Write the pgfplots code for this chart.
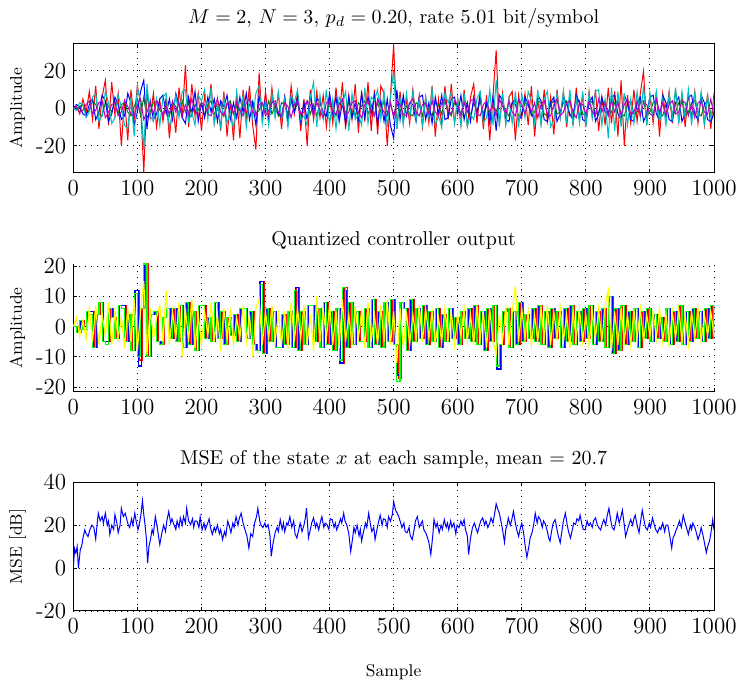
\documentclass[border=0pt]{standalone}
\usepackage{fontspec}
\usepackage{pgfplots}
\usepackage{pgfplotstable}
\pgfplotsset{compat=1.18}
\definecolor{mgreen}{rgb}{0,0.5,0}
\definecolor{mcyan}{rgb}{0,0.75,0.75}
\definecolor{mmag}{rgb}{0.75,0,0.75}
\definecolor{bgreen}{rgb}{0,1,0}
\definecolor{byellow}{rgb}{1,1,0}

\pgfplotstableread{
x r g b c m
0 0 0 0 0 0
5 1 -1 2 -1 1
10 -3 1 1 3 -2
15 5 2 -3 2 -1
20 -2 -3 -4 -5 2
25 9 -1 2 -2 4
30 -6 4 5 6 -3
35 12 2 -6 8 -1
40 -11 -3 -2 -7 3
45 6 -4 7 -4 4
50 15 3 4 9 -5
55 -9 1 -7 3 -2
60 14 -2 -3 -8 2
65 -4 4 6 -5 3
70 8 -3 2 7 -4
75 -20 2 -6 1 -2
80 5 3 -4 -9 4
85 -17 -2 8 -11 1
90 10 -4 3 6 -3
95 -6 1 -9 -15 -4
100 12 5 -2 11 2
105 3 -4 9 4 5
110 -34.3 6 15 -22 -6
115 9 -5 -11 13 -2
120 -5 -2 4 -4 3
125 8 3 -6 -7 -3
130 -10 4 -3 5 4
135 4 -1 5 -9 2
140 -7 -3 7 6 -4
145 6 2 -3 8 1
150 -16 -4 5 -10 -3
155 2 3 -6 -3 4
160 -13 1 8 7 -2
165 11 -3 2 -5 3
170 -5 4 -5 9 -4
175 23 -2 -8 10 2
180 -10 3 6 -7 -3
185 13 -4 -3 -2 5
190 -4 2 9 -9 -1
195 8 -1 -7 7 -4
200 -12 3 3 4 3
205 7 -4 -5 10 2
210 -3 2 6 -6 -3
215 13 4 -2 11 -4
220 -8 -3 5 -8 1
225 5 -1 -7 3 5
230 -12 3 4 -10 -2
235 9 -4 1 6 -4
240 -15 2 7 -8 3
245 4 4 -6 -2 2
250 -17 -3 3 -11 -3
255 7 1 -5 9 4
260 -16 -2 6 -4 -1
265 10 3 -2 7 -4
270 -5 -4 8 -10 3
275 12 2 -6 6 5
280 -9 4 3 -5 -2
285 -22 -3 -9 8 -4
290 19 -1 7 12 2
295 -7 3 -4 -8 3
300 9 -2 5 4 -4
305 -6 4 -7 -9 -1
310 11 -3 4 8 3
315 -4 1 2 -5 4
320 8 -4 -3 9 -2
325 -11 3 -5 -6 -4
330 6 2 6 5 3
335 -7 -3 -8 -10 1
340 12 4 6 7 -5
345 -3 -2 -2 3 2
350 8 3 6 10 4
355 -12 -4 -7 -6 -3
360 5 1 3 -4 -2
365 -20 4 -6 -9 4
370 10 -3 7 6 2
375 -6 2 -3 14 -4
380 9 -4 5 -10 3
385 -5 3 4 7 -1
390 7 -2 -3 -6 -5
395 -10 -4 -4 10 3
400 6 3 8 -9 4
405 -8 1 -3 5 -2
410 11 -4 6 -11 -3
415 -5 3 -7 6 2
420 14 2 3 2 5
425 -11 -3 -8 9 -4
430 7 4 6 -12 -2
435 -6 -2 -5 8 3
440 13 -4 3 -6 4
445 -13 3 -6 -3 -2
450 9 1 8 -9 -5
455 -7 4 -5 11 2
460 14 -3 6 -8 4
465 -12 2 -3 6 -3
470 10 -4 7 4 -4
475 -14 3 -8 10 5
480 12 -2 4 -6 1
485 8 4 -7 9 -2
490 -20 -3 5 -10 -4
495 6 3 -9 6 3
500 34.3 -4 -16 20 -5
505 -11 3 10 -11 4
510 9 -2 -6 5 2
515 -7 4 7 -9 -3
520 5 1 -4 8 -4
525 -8 -3 3 -5 3
530 10 -4 2 9 5
535 -5 3 -7 -6 -2
540 7 2 6 5 -4
545 -10 -4 7 -9 2
550 6 3 -6 6 3
555 -8 -1 3 -5 -3
560 12 -4 -8 10 4
565 -15 3 6 -9 -2
570 5 2 -3 -4 -4
575 -9 -3 7 -10 3
580 12 4 -6 8 5
585 -6 -2 -5 3 -1
590 13 -4 5 9 -3
595 -8 3 6 -8 4
600 5 1 -3 5 2
605 -9 -3 7 -9 -4
610 10 4 -6 8 3
615 -10 2 3 -10 -2
620 6 -4 -7 -3 4
625 13 3 6 -6 5
630 -8 -2 -3 5 -3
635 9 4 7 9 -4
640 -11 -3 -6 -8 2
645 7 2 3 -5 4
650 -17 -4 -8 10 -2
655 6 3 6 -9 3
660 31 -2 -12 15 -4
665 -9 4 7 -10 5
670 8 3 4 8 1
675 -8 -2 -6 -9 -3
680 6 -4 -7 5 4
685 9 3 3 -8 -2
690 -17 2 5 9 -4
695 7 -4 -7 -10 5
700 -5 -3 -3 8 2
705 8 3 6 -5 -3
710 -9 2 2 9 4
715 12 -4 -3 4 -2
720 -15 -2 -6 -8 3
725 5 4 7 10 -5
730 -8 3 4 -9 2
735 10 -3 -6 5 4
740 -7 -4 -7 9 -3
745 6 2 3 -10 -4
750 -14 4 6 -6 2
755 10 -3 -7 8 5
760 -5 -2 -3 -5 -4
765 9 3 6 9 -2
770 -10 4 2 -8 3
775 6 -4 -3 10 4
780 -9 -2 -6 -9 -2
785 11 3 7 5 -5
790 -6 4 3 -8 3
795 7 -3 -6 9 2
800 -10 -4 -7 -10 -3
805 9 2 3 8 4
810 -5 4 6 -5 -2
815 10 -3 -7 9 -4
820 -12 -2 -3 10 5
825 6 3 6 -9 -2
830 -9 4 -2 5 3
835 11 -4 -3 -16 -4
840 -8 -2 6 11 4
845 9 3 7 -12 -2
850 -15 4 -3 9 3
855 15 -3 -6 -10 -4
860 -20 -4 7 8 2
865 7 2 3 -9 5
870 -8 4 -6 5 -3
875 10 -3 -7 -8 -2
880 -7 -2 3 9 4
885 8 3 6 -5 -4
890 19.7 4 -7 12 3
895 -9 -4 -3 -9 2
900 7 -2 6 8 -3
905 -8 3 7 -5 -4
910 9 4 -3 9 5
915 -15 -3 -6 -8 -2
920 8 -4 7 5 3
925 -5 2 3 -9 -4
930 9 4 -6 8 2
935 -8 -3 -7 -5 4
940 10 -2 3 11 -3
945 -7 3 6 -8 -2
950 7 4 -7 9 4
955 -10 -4 -3 -5 3
960 8 -2 6 10 -4
965 -5 3 7 -9 2
970 9 4 -3 8 -5
975 -8 -3 -6 -5 3
980 7 -4 7 9 4
985 -9 2 3 -8 -2
990 8 4 -6 7 -3
995 -11 -3 -7 -5 5
1000 8 -3 -3 5 -4
}\toptable

\pgfplotstableread{
x qr qb qg qy
0 0 0 0 0
5 -2 -2 -2 3
10 2 2 2 -3
15 -1 -1 -1 2
20 5 5 5 -4
25 5 5 4 6
30 -7 -7 -7 -5
35 4 4 4 7
40 8 8 8 -6
45 -5 -5 -5 4
50 -5 -5 -6 -3
55 6 6 6 8
60 3 3 3 -6
65 -4 -4 -4 5
70 7 7 7 -4
75 7 7 6 3
80 -5 -5 -5 -7
85 4 4 4 6
90 -8 -8 -8 -5
95 12 12 11 9
100 -11 -13 -10 -8
105 6 6 6 5
110 20.7 20.7 20.7 15
115 -10 -10 -10 -9
120 4 4 4 6
125 5 5 5 -4
130 -5 -5 -5 3
135 -6 -6 -6 7
140 3 3 3 -5
145 6 6 6 12
150 -4 -4 -4 -6
155 6 6 6 5
160 -5 -5 -5 -4
165 7 7 7 8
170 -7 -7 -7 -10
175 8 8 8 6
180 -6 -6 -6 -5
185 5 5 5 9
190 -8 -8 -8 -7
195 7 7 7 4
200 7 7 7 -6
205 -4 -4 -4 5
210 3 3 3 -3
215 -5 -5 -5 8
220 8 8 8 -5
225 -4 -4 -4 4
230 5 5 5 -8
235 -6 -6 -6 6
240 3 3 3 -4
245 -3 -3 -3 5
250 4 4 4 -6
255 -5 -5 -5 3
260 6 6 6 -4
265 6 6 6 7
270 -4 -4 -4 -5
275 5 5 5 4
280 -6 -6 -6 -10
285 -8 -8 -8 6
290 15 15 14 9
295 -9 -9 -9 -6
300 6 6 6 5
305 -5 -5 -5 -4
310 5 5 5 7
315 -7 -7 -7 -5
320 -7 -7 -7 4
325 4 4 4 -6
330 -6 -6 -6 5
335 5 5 5 -7
340 -7 -7 -7 8
345 13 13 12 -5
350 -8 -8 -8 6
355 5 5 5 -4
360 -6 -6 -6 7
365 7 7 7 -6
370 7 7 7 4
375 -5 -5 -5 -8
380 6 6 6 10
385 -7 -7 -7 -5
390 8 8 8 6
395 -6 -6 -6 -4
400 5 5 5 7
405 -8 -8 -8 -6
410 6 6 6 5
415 -12 -12 -11 -7
420 13 12 13 9
425 -7 -7 -7 -5
430 8 8 8 4
435 -6 -6 -6 -6
440 5 5 5 7
445 -5 -5 -5 -4
450 -5 -5 -5 5
455 6 6 6 -7
460 -7 -7 -7 8
465 9 9 9 -5
470 -6 -6 -6 4
475 5 5 5 -6
480 -7 -7 -7 7
485 8 8 8 -5
490 -5 -5 -5 9
495 9 9 9 -6
500 -6 -6 -6 5
505 -17 -16 -18 -12
510 8 8 8 6
515 6 6 6 -7
520 -8 -8 -8 5
525 9 9 9 -6
530 -5 -5 -5 4
535 6 6 6 -4
540 -4 -4 -4 7
545 7 7 7 -5
550 -6 -6 -6 6
555 5 5 5 -4
560 -5 -5 -5 5
565 6 6 6 -6
570 -7 -7 -7 3
575 4 4 4 -5
580 -5 -5 -5 6
585 6 6 6 -4
590 -4 -4 -4 5
595 3 3 3 -6
600 -6 -6 -6 4
605 5 5 5 -3
610 -4 -4 -4 6
615 6 6 6 -5
620 -5 -5 -5 4
625 7 7 7 -6
630 -6 -6 -6 7
635 5 5 5 -4
640 -8 -8 -8 5
645 6 6 6 -7
650 -5 -5 -5 6
655 7 7 7 -5
660 -14 -14 -13 -9
665 -6 -6 -6 4
670 5 5 5 -5
675 6 6 6 7
680 -7 -7 -7 -6
685 5 5 5 5
690 -6 -6 -6 13.5
695 8 8 8 -5
700 -5 -5 -5 6
705 4 4 4 -4
710 -4 -4 -4 5
715 6 6 6 -6
720 -5 -5 -5 4
725 7 7 7 -5
730 -6 -6 -6 6
735 5 5 5 -4
740 -7 -7 -7 7
745 6 6 6 -6
750 -4 -4 -4 5
755 5 5 5 -4
760 -7 -7 -7 6
765 6 6 6 -5
770 -5 -5 -5 4
775 7 7 7 -7
780 -6 -6 -6 5
785 5 5 5 -4
790 -5 -5 -5 6
795 6 6 6 -5
800 -4 -4 -4 4
805 7 7 7 -6
810 -6 -6 -6 5
815 5 5 5 -4
820 -5 -5 -5 6
825 6 6 6 -5
830 -7 -7 -7 7
835 10 10 10 12
840 -9 -9 -9 -8
845 6 6 6 5
850 -8 -8 -8 -6
855 7 7 7 6
860 -6 -6 -6 -5
865 5 5 5 4
870 -5 -5 -5 -6
875 6 6 6 5
880 -7 -7 -7 -4
885 5 5 5 6
890 -4 -4 -4 -5
895 6 6 6 4
900 -5 -5 -5 -3
905 4 4 4 5
910 -4 -4 -4 -4
915 3 3 3 6
920 -5 -5 -5 -5
925 6 6 6 4
930 -6 -6 -6 -6
935 5 5 5 5
940 -5 -5 -5 -4
945 7 7 7 6
950 -6 -6 -6 -5
955 5 5 5 4
960 -5 -5 -5 -6
965 6 6 6 5
970 -4 -4 -4 -4
975 5 5 5 6
980 -5 -5 -5 -5
985 6 6 6 4
990 -4 -4 -4 -3
995 7 7 7 5
1000 -4 -4 -4 -3
}\midtable

\pgfplotsset{
  mstyle/.style={
    scale only axis, width=320.35pt,
    xmin=0, xmax=1000, xtick={0,100,...,1000},
    /pgf/number format/1000 sep={},
    /pgf/number format/assume math mode=true,
    grid=major,
    major grid style={black, line width=0.45pt, dash pattern=on 0.45pt off 2.55pt},
    tick align=inside, major tick length=2pt,
    axis line style={black, line width=0.5pt},
    tick style={black, line width=0.5pt},
    tick label style={font=\fontsize{11.5}{13}\selectfont},
    every axis y label/.style={at={(axis description cs:-0.087,0.5)}, rotate=90, anchor=center, font=\fontsize{8.5}{10}\selectfont},
    every axis x label/.style={at={(axis description cs:0.5,0)}, yshift=-30.5pt, anchor=center, font=\fontsize{8.5}{10}\selectfont},
  }
}

\begin{document}
\begin{tikzpicture}
\path[use as bounding box] (0,0) rectangle (370pt,343pt);

\begin{axis}[mstyle, at={(36.65pt,256.65pt)}, anchor=south west, height=64.35pt,
  ymin=-34.3, ymax=34.3, ytick={-20,0,20}, yticklabels={-20,0,20},
  ylabel={Amplitude},
  title={$M=2$, $N=3$, $p_d=0.20$, rate 5.01 bit/symbol},
  every axis title/.style={at={(axis description cs:0.5,1)}, anchor=base, yshift=10pt, font=\fontsize{10}{12}\selectfont}]
\addplot[red, line width=0.5pt] table[x=x, y=r] {\toptable};
\addplot[mgreen, line width=0.5pt] table[x=x, y=g] {\toptable};
\addplot[blue, line width=0.5pt] table[x=x, y=b] {\toptable};
\addplot[mcyan, line width=0.5pt] table[x=x, y=c] {\toptable};
\addplot[mmag, line width=0.5pt] table[x=x, y=m] {\toptable};
\end{axis}

\begin{axis}[mstyle, at={(36.65pt,147.15pt)}, anchor=south west, height=63.85pt,
  ymin=-21.5, ymax=20.7, ytick={-20,-10,0,10,20}, yticklabels={-20,-10,0,10,20},
  axis x line*=bottom, axis y line*=left,
  ylabel={Amplitude},
  title={Quantized controller output},
  every axis title/.style={at={(axis description cs:0.5,1)}, anchor=base, yshift=9pt, font=\fontsize{10}{12}\selectfont}]
\addplot[red, line width=0.6pt, const plot, xshift=0.8pt] table[x=x, y=qr] {\midtable};
\addplot[blue, line width=0.6pt, const plot, xshift=0.4pt] table[x=x, y=qb] {\midtable};
\addplot[bgreen, line width=0.6pt, const plot] table[x=x, y=qg] {\midtable};
\addplot[byellow, line width=0.6pt] table[x=x, y=qy] {\midtable};
\end{axis}

\begin{axis}[mstyle, at={(36.65pt,37.5pt)}, anchor=south west, height=64.35pt,
  ymin=-20, ymax=40, ytick={-20,0,20,40}, yticklabels={-20,0,20,40},
  ylabel={MSE [dB]}, xlabel={Sample},
  title={MSE of the state $x$ at each sample, mean $=$ 20.7},
  every axis title/.style={at={(axis description cs:0.5,1)}, anchor=base, yshift=8.8pt, font=\fontsize{10}{12}\selectfont}]
\addplot[blue, line width=0.5pt] coordinates {
(0,0)(2,9)(4,7)(6,10)(8,0)(11,9)(13,10)(15,14)(18,17.8)(20,16)(23,14.7)(26,18)(29,20)(32,19)(35,13.5)(37,20)(39,25.6)(42,22)(45,24)(47,21)(50,25.6)(53,20)(55,22)(57,15.7)(60,20)(63,18)(65,25)(68,21)(70,16.5)(73,20)(75,27.9)(78,24)(81,25.6)(84,22)(86,20)(88,18.9)(91,23)(93,20)(96,25.6)(98,22)(101,17.8)(104,22)(106,26)(108,31.4)(110,25)(112,20)(114,14)(116,2.3)(118,10)(120,12.6)(123,18)(125,16)(128,24)(131,19)(133,15)(135,11)(138,16)(141,20)(144,17)(146,22)(149,26.4)(152,21)(154,23)(157,20.3)(160,18)(162,22)(165,19)(167,23.4)(170,20)(172,24)(175,21)(177,27.9)(180,22)(183,20.3)(186,23)(188,19)(190,22)(193,21.9)(196,19)(198,24)
(201,17.8)(204,21)(206,18)(209,20.3)(212,23)(214,19)(217,15.7)(220,19)(222,17)(225,20)(228,16)(230,18)(233,13.3)(236,17)(238,15)(241,21.9)(244,19)(246,16.5)(249,21)(251,19)(254,24)(257,20)(259,23)(262,25.6)(265,21)(268,17.8)(271,15)(274,9.3)(277,16)(280,14.7)(283,21)(286,24)(288,27.9)(291,22)(293,20)(296,18.9)(299,21)(301,19)(304,20.3)(307,15)(309,5.5)(312,12)(315,16.5)(318,19)(320,17)(323,22.6)(326,18)(328,21)(330,17)(333,21)(335,20)(338,24)(341,19)(344,22)(346,16)(349,14)(352,18)(354,21)(357,17)(360,20)(362,23)(364,27.9)(367,14)(370,18)(372,21)(375,23.4)(378,19)(380,21)(383,17.8)(386,22)(388,24)(391,19)(393,21)(396,20.3)(399,18)
(401,23)(404,22.6)(407,19)(409,21)(411,17.8)(414,20)(417,23)(419,21)(422,25.6)(424,22)(427,20)(430,16)(433,7.7)(436,14)(438,19)(440,16.5)(443,20)(446,15)(448,18)(450,12.6)(453,17)(456,21)(458,19)(461,25.6)(464,20)(466,17)(469,19)(471,13.3)(474,18)(476,21)(479,24.7)(482,20)(484,23)(487,22.6)(490,19)(492,24)(495,21.9)(498,25)(500,31)(503,27)(505,26)(508,24)(510,22)(513,18.9)(516,21)(518,17)(521,16.5)(524,19)(526,15)(529,13.3)(532,18)(534,22)(537,24)(540,19)(542,20.3)(545,22)(547,18)(550,16.5)(553,14)(555,12)(558,6.3)(561,15)(563,22.6)(566,19)(568,21)(571,16.5)(574,20)(576,18)(579,22.6)(582,19)(584,21)(586,17.8)(589,22)(591,19)(594,21)(597,16)(599,20)
(602,18.9)(605,22)(607,20)(610,22.6)(612,18)(615,15)(617,6.3)(620,14)(623,18.9)(626,21)(628,19)(631,16.5)(634,20)(636,22)(639,23.4)(642,20)(644,22)(647,18.9)(650,21)(652,23.4)(655,21)(658,26)(660,30)(663,27)(665,25.6)(668,21)(670,17.8)(673,12)(675,18)(677,20)(679,23.4)(682,20)(684,22)(687,26.4)(690,21)(692,18)(695,14.7)(698,19)(700,21)(703,16)(705,11)(708,5)(711,10)(713,14)(716,16.5)(719,21)(721,25.6)(724,21)(726,24)(729,22.6)(732,19)(734,22)(737,20.3)(740,17)(742,14)(744,12.6)(747,18)(749,21)(752,22.6)(755,18)(757,15)(760,11.8)(763,18)(765,22)(768,25.6)(771,20)(773,17)(776,14)(779,18)(781,21)(784,20.3)(786,23)(789,22)(791,24.7)(794,20)(796,18)(799,17.8)
(802,22)(804,20)(807,21)(810,19)(812,22)(815,23.4)(818,20)(820,19)(823,17.8)(826,21)(828,22.6)(831,20)(833,24)(836,27.9)(839,22)(841,19)(844,17.8)(847,22)(849,25.6)(852,21)(854,23)(857,27)(860,20)(862,14.7)(865,18)(867,20)(870,22.6)(873,20)(875,23)(877,24.7)(880,20)(883,16.5)(885,21)(888,27)(891,22)(893,19)(896,17.8)(899,21)(901,19)(904,23.4)(907,20)(909,18)(912,16.5)(915,19)(917,18)(920,21)(923,17)(925,20)(928,20)(931,15)(934,9.3)(936,14)(939,16)(941,17.8)(944,20)(946,22)(949,19)(952,24.7)(955,21)(957,19)(960,15.7)(963,20)(965,18)(967,21)(970,19)(972,17)(975,13.3)(978,16)(980,18.9)(983,15)(985,12)(988,7.2)(990,10)(993,12.6)(995,16)(998,22.6)(1000,17.8)
};
\end{axis}
\end{tikzpicture}
\end{document}
